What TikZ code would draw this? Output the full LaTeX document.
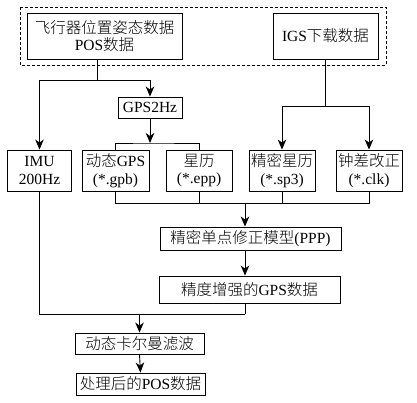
\documentclass[tikz,border=0pt]{standalone}
\usepackage{fontspec}
\setmainfont{Liberation Serif}
\newfontfamily\cjk{Noto Sans CJK SC Light}
\usetikzlibrary{arrows.meta}
\begin{document}
\begin{tikzpicture}[x=1pt,y=-1pt,
  box/.style={draw, line width=0.9pt, inner sep=0pt, align=center, font=\fontsize{15.5}{17.5}\selectfont},
  ln/.style={line width=0.9pt},
  arr/.style={line width=0.9pt, -{Stealth[length=10pt,width=8.5pt,inset=3pt]}}]
\useasboundingbox (0,0) rectangle (417,403);
\fill[white] (0,0) rectangle (417,403);
% dashed frame
\draw[line width=0.8pt, dash pattern=on 3pt off 2pt] (20,7) rectangle (386,65);
% nodes
\node[box, minimum width=155pt, minimum height=46pt] (pos) at (104.5,36) {{\cjk 飞行器位置姿态数据}\\POS{\cjk 数据}};
\node[box, minimum width=105pt, minimum height=46pt] (igs) at (325.5,36) {IGS{\cjk 下载数据}};
\node[box, minimum width=64pt, minimum height=21pt] (g2) at (150,107.5) {GPS2Hz};
\node[box, minimum width=64pt, minimum height=41pt] (imu) at (39.5,170.5) {IMU\\200Hz};
\node[box, minimum width=67pt, minimum height=41pt] (dgps) at (115.5,170.5) {{\cjk 动态}GPS\\(*.gpb)};
\node[box, minimum width=66pt, minimum height=41pt] (eph) at (199,170.5) {{\cjk 星历}\\(*.epp)};
\node[box, minimum width=66pt, minimum height=41pt] (sp3) at (282,170.5) {{\cjk 精密星历}\\(*.sp3)};
\node[box, minimum width=66pt, minimum height=41pt] (clk) at (369,170.5) {{\cjk 钟差改正}\\(*.clk)};
\node[box, minimum width=181pt, minimum height=23pt] (ppp) at (250.5,238.5) {{\cjk 精密单点修正模型}(PPP)};
\node[box, minimum width=181pt, minimum height=27pt] (egps) at (249.5,289.5) {{\cjk 精度增强的}GPS{\cjk 数据}};
\node[box, minimum width=129pt, minimum height=21pt] (kal) at (139.5,343.5) {{\cjk 动态卡尔曼滤波}};
\node[box, minimum width=129pt, minimum height=22pt] (out) at (140.5,384) {{\cjk 处理后的}POS{\cjk 数据}};
% junction coordinates
\coordinate (j1) at (97,80);
\coordinate (j2) at (150,143);
\coordinate (j3) at (325,106);
\coordinate (j4) at (245,203);
\coordinate (j5) at (245,314);
\coordinate (j6) at (139.5,314);
% connectors
\draw[ln] (pos.south -| j1) -- (j1);
\draw[arr] (j1) -| (imu.north);
\draw[arr] (j1) -| (g2.north);
\draw[arr] (g2.south) -- (j2);
\draw[ln] (dgps.north) |- (j2) -| (eph.north);
\draw[ln] (igs.south -| j3) -- (j3);
\draw[arr] (j3) -| (sp3.north);
\draw[arr] (j3) -| (clk.north);
\draw[ln] (dgps.south) |- (j4);
\draw[ln] (eph.south) -- (eph.south |- j4);
\draw[ln] (sp3.south) -- (sp3.south |- j4);
\draw[ln] (clk.south) |- (j4);
\draw[arr] (j4) -- (ppp.north -| j4);
\draw[arr] (ppp.south -| j4) -- (egps.north -| j4);
\draw[ln] (egps.south -| j5) -- (j5);
\draw[ln] (imu.south) |- (j5);
\draw[arr] (j6) -- (kal.north);
\draw[arr] (kal.south) -- (out.north);
\end{tikzpicture}
\end{document}
